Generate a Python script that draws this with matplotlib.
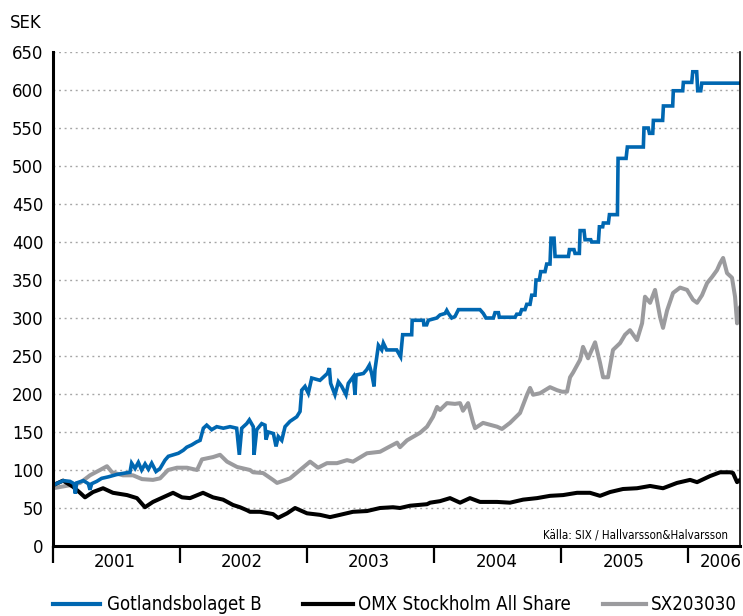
"""
Kursutveckling Gotlandsbolaget B mot OMX Stockholm All Share och SX203030.
"""

import matplotlib
matplotlib.use("Agg")
import matplotlib.pyplot as plt
from matplotlib import font_manager
from matplotlib.lines import Line2D

# ── Data (decimalår, SEK) ──────────────────────────────────
GOTL_AR = [
    2001.000, 2001.081, 2001.134, 2001.165, 2001.176, 2001.186, 2001.239, 2001.278,
    2001.291, 2001.305, 2001.344, 2001.383, 2001.436, 2001.501, 2001.567, 2001.606,
    2001.619, 2001.646, 2001.672, 2001.698, 2001.725, 2001.751, 2001.777, 2001.811,
    2001.843, 2001.882, 2001.908, 2001.948, 2001.987, 2002.026, 2002.053, 2002.092,
    2002.131, 2002.158, 2002.184, 2002.210, 2002.249, 2002.289, 2002.341, 2002.394,
    2002.446, 2002.467, 2002.486, 2002.525, 2002.546, 2002.577, 2002.583, 2002.604,
    2002.643, 2002.669, 2002.677, 2002.695, 2002.735, 2002.756, 2002.774, 2002.801,
    2002.827, 2002.866, 2002.919, 2002.945, 2002.958, 2002.984, 2003.010, 2003.037,
    2003.102, 2003.160, 2003.176, 2003.186, 2003.220, 2003.247, 2003.273, 2003.307,
    2003.325, 2003.365, 2003.378, 2003.386, 2003.444, 2003.470, 2003.491, 2003.509,
    2003.528, 2003.535, 2003.562, 2003.588, 2003.601, 2003.627, 2003.706, 2003.737,
    2003.753, 2003.824, 2003.828, 2003.916, 2003.920, 2003.942, 2003.955, 2004.021,
    2004.047, 2004.087, 2004.100, 2004.113, 2004.139, 2004.165, 2004.192, 2004.362,
    2004.388, 2004.409, 2004.467, 2004.480, 2004.507, 2004.514, 2004.638, 2004.651,
    2004.677, 2004.690, 2004.716, 2004.730, 2004.756, 2004.769, 2004.795, 2004.803,
    2004.829, 2004.840, 2004.874, 2004.887, 2004.913, 2004.921, 2004.945, 2004.953,
    2005.058, 2005.066, 2005.102, 2005.110, 2005.144, 2005.150, 2005.181, 2005.189,
    2005.234, 2005.241, 2005.294, 2005.302, 2005.328, 2005.333, 2005.373, 2005.381,
    2005.444, 2005.449, 2005.512, 2005.522, 2005.648, 2005.653, 2005.687, 2005.696,
    2005.722, 2005.727, 2005.800, 2005.806, 2005.879, 2005.884, 2005.958, 2005.963,
    2006.029, 2006.037, 2006.068, 2006.076, 2006.100, 2006.108, 2006.409,
]
GOTL_SEK = [
    80, 86, 85, 82, 69, 83, 86, 82,
    74, 82, 85, 89, 91, 94, 96, 97,
    109, 102, 110, 100, 108, 101, 109, 98,
    102, 113, 118, 120, 122, 126, 130, 133,
    137, 139, 155, 159, 153, 157, 155, 157,
    155, 120, 155, 161, 166, 157, 120, 153,
    161, 159, 140, 150, 148, 131, 144, 139,
    157, 164, 170, 177, 205, 210, 201, 221,
    218, 227, 234, 214, 199, 216, 210, 199,
    214, 223, 199, 225, 227, 232, 238, 227,
    210, 232, 264, 258, 267, 258, 258, 249,
    278, 278, 297, 297, 291, 291, 297, 300,
    304, 306, 310, 306, 300, 302, 311, 311,
    306, 300, 300, 307, 307, 301, 301, 305,
    305, 311, 311, 318, 318, 330, 330, 350,
    350, 361, 361, 371, 371, 405, 405, 381,
    381, 390, 390, 385, 385, 415, 415, 403,
    403, 400, 400, 420, 420, 425, 425, 436,
    436, 510, 510, 525, 525, 550, 550, 543,
    543, 560, 560, 579, 579, 599, 599, 610,
    610, 624, 624, 599, 599, 609, 609,
]

OMX_AR = [
    2001.000, 2001.079, 2001.157, 2001.213, 2001.252, 2001.315, 2001.394, 2001.472,
    2001.583, 2001.661, 2001.724, 2001.787, 2001.866, 2001.945, 2002.016, 2002.079,
    2002.181, 2002.260, 2002.339, 2002.417, 2002.472, 2002.528, 2002.551, 2002.630,
    2002.732, 2002.772, 2002.843, 2002.906, 2003.000, 2003.102, 2003.181, 2003.260,
    2003.362, 2003.472, 2003.575, 2003.677, 2003.732, 2003.811, 2003.945, 2003.969,
    2004.047, 2004.126, 2004.205, 2004.283, 2004.362, 2004.496, 2004.598, 2004.701,
    2004.811, 2004.913, 2005.016, 2005.126, 2005.150, 2005.228, 2005.307, 2005.386,
    2005.488, 2005.598, 2005.701, 2005.803, 2005.913, 2006.016, 2006.071, 2006.173,
    2006.252, 2006.331, 2006.354, 2006.386, 2006.409,
]
OMX_SEK = [
    80, 86, 78, 70, 64, 71, 76, 70,
    67, 63, 51, 58, 64, 70, 64, 63,
    70, 64, 61, 54, 51, 47, 45, 45,
    42, 37, 43, 50, 43, 41, 38, 41,
    45, 46, 50, 51, 50, 53, 55, 57,
    59, 63, 57, 63, 58, 58, 57, 61,
    63, 66, 67, 70, 70, 70, 66, 71,
    75, 76, 79, 76, 83, 87, 84, 92,
    97, 97, 96, 84, 87,
]

SX_AR = [
    2001.000, 2001.134, 2001.213, 2001.291, 2001.370, 2001.425, 2001.465, 2001.551,
    2001.630, 2001.701, 2001.787, 2001.843, 2001.906, 2001.976, 2002.055, 2002.134,
    2002.173, 2002.260, 2002.315, 2002.370, 2002.449, 2002.551, 2002.575, 2002.654,
    2002.732, 2002.764, 2002.866, 2002.945, 2003.024, 2003.087, 2003.157, 2003.236,
    2003.315, 2003.362, 2003.472, 2003.575, 2003.630, 2003.709, 2003.732, 2003.787,
    2003.890, 2003.945, 2003.992, 2004.024, 2004.047, 2004.102, 2004.165, 2004.205,
    2004.228, 2004.268, 2004.307, 2004.323, 2004.386, 2004.496, 2004.535, 2004.598,
    2004.677, 2004.732, 2004.756, 2004.780, 2004.835, 2004.913, 2004.969, 2005.008,
    2005.047, 2005.071, 2005.094, 2005.150, 2005.173, 2005.213, 2005.268, 2005.307,
    2005.331, 2005.370, 2005.409, 2005.465, 2005.504, 2005.543, 2005.598, 2005.638,
    2005.661, 2005.701, 2005.740, 2005.780, 2005.803, 2005.835, 2005.882, 2005.937,
    2005.992, 2006.039, 2006.071, 2006.110, 2006.150, 2006.189, 2006.228, 2006.252,
    2006.276, 2006.307, 2006.346, 2006.370, 2006.386, 2006.394, 2006.409,
]
SX_SEK = [
    76, 80, 83, 93, 100, 105, 97, 93,
    93, 88, 87, 89, 100, 103, 103, 100,
    114, 117, 120, 111, 104, 100, 97, 96,
    87, 83, 89, 100, 111, 103, 109, 109,
    113, 111, 122, 124, 129, 136, 130, 139,
    149, 157, 170, 183, 179, 188, 187, 188,
    178, 188, 163, 155, 162, 157, 154, 162,
    175, 199, 208, 199, 201, 209, 205, 203,
    203, 222, 228, 245, 262, 247, 268, 241,
    222, 222, 258, 267, 278, 284, 271, 293,
    328, 320, 337, 301, 287, 310, 333, 340,
    337, 324, 320, 330, 346, 354, 363, 372,
    379, 359, 353, 328, 293, 310, 314,
]

AR_GRANSER = [2001, 2002, 2003, 2004, 2005, 2006]
AR_ETIKETTER = ["2001", "2002", "2003", "2004", "2005", "2006"]
AR_ETIKETT_POS = [2001.49, 2002.49, 2003.49, 2004.49, 2005.49, 2006.26]
Y_TICKS = list(range(0, 651, 50))

BLA = "#0067b1"
GRA = "#9b9b9e"
SVART = "#000000"

# ── Typsnitt: smalt om det finns ───────────────────────────
familj, bredd = "Liberation Sans", "normal"
for f in font_manager.fontManager.ttflist:
    if "Narrow" in f.name or f.stretch in ("condensed", "semi-condensed"):
        familj, bredd = f.name, f.stretch
        break
plt.rcParams["font.family"] = [familj, "DejaVu Sans"]
plt.rcParams["font.stretch"] = bredd
SKALA = 1.0 if familj != "Liberation Sans" else 0.95

W, H = 743, 616
fig = plt.figure(figsize=(W / 100, H / 100), dpi=100)
ax = fig.add_axes([53 / W, 70 / H, 687 / W, 494 / H])

ax.plot(SX_AR, SX_SEK, color=GRA, linewidth=2.9, solid_joinstyle="round")
ax.plot(OMX_AR, OMX_SEK, color=SVART, linewidth=2.9, solid_joinstyle="round")
ax.plot(GOTL_AR, GOTL_SEK, color=BLA, linewidth=2.6, solid_joinstyle="miter")

ax.set_xlim(2001.0, 2006.409)
ax.set_ylim(0, 650)

# ── Axlar ──────────────────────────────────────────────────
ax.set_yticks(Y_TICKS)
ax.set_yticklabels([str(v) for v in Y_TICKS])
ax.tick_params(axis="y", length=0, pad=7, labelsize=13.2 * SKALA)
ax.yaxis.grid(True, linestyle=(0, (1.4, 2.6)), color="#a6a6a6", linewidth=1.0)
ax.set_axisbelow(True)

ax.set_xticks(AR_GRANSER)
ax.set_xticklabels([])
ax.tick_params(axis="x", which="major", length=12, width=1.6, direction="out")
ax.set_xticks(AR_ETIKETT_POS, minor=True)
ax.set_xticklabels(AR_ETIKETTER, minor=True)
ax.tick_params(axis="x", which="minor", length=0, pad=5, labelsize=13.2 * SKALA)

ax.spines["top"].set_visible(False)
ax.spines["left"].set_linewidth(2.2)
ax.spines["bottom"].set_linewidth(2.2)
ax.spines["right"].set_linewidth(1.2)

ax.text(0.9825, 0.022, "Källa: SIX / Hallvarsson&Halvarsson", transform=ax.transAxes,
        ha="right", va="center", fontsize=8.3 * SKALA)
fig.text(10 / W, 1 - 23 / H, "SEK", ha="left", va="center", fontsize=13.2 * SKALA)

# ── Teckenförklaring ───────────────────────────────────────
forklaring = [
    (BLA, "Gotlandsbolaget B", 53, 100, 107),
    (SVART, "OMX Stockholm All Share", 303, 353, 358),
    (GRA, "SX203030", 603, 646, 651),
]
y_leg = 1 - 604 / H
for farg, namn, x0, x1, xt in forklaring:
    fig.add_artist(Line2D([x0 / W, x1 / W], [y_leg, y_leg], transform=fig.transFigure,
                          color=farg, linewidth=3))
    fig.text(xt / W, y_leg, namn, ha="left", va="center", fontsize=13.4 * SKALA)

fig.savefig("out.png", dpi=100)
